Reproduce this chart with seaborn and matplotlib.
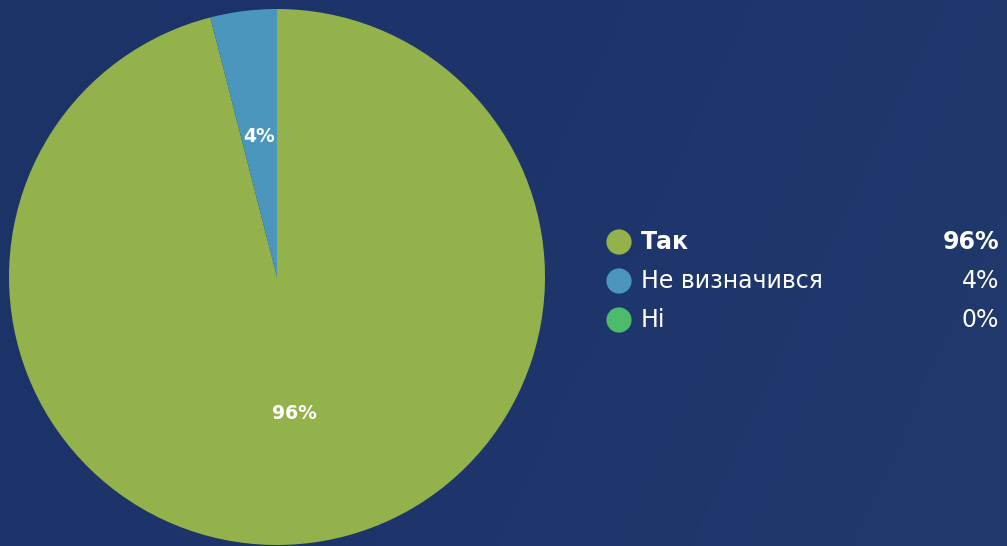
import numpy as np
import pandas as pd
import matplotlib
matplotlib.use("Agg")
import matplotlib.pyplot as plt
import seaborn as sns
from matplotlib.colors import LinearSegmentedColormap

categories = ["Так", "Не визначився", "Ні"]
values = [96, 4, 0]
pct_labels = ["96%", "4%", "0%"]
colors = ["#94b24c", "#4b96bd", "#4cbb6c"]

sns.set_theme(style="white")
plt.rcParams['font.family'] = ['DejaVu Sans']

W, H = 1007, 546
fig = plt.figure(figsize=(W / 100, H / 100), dpi=100)
ax = fig.add_axes([0, 0, 1, 1])

# background gradient
cmap = LinearSegmentedColormap.from_list("bg", ["#1b3367", "#1d356b", "#213a6d"])
gx = np.linspace(0, 1, 256)
gy = np.linspace(0, 1, 64)
grad = (gx[None, :] * 0.8 + gy[:, None] * 0.2)
ax.imshow(grad, cmap=cmap, extent=(0, W, H, 0), aspect="auto", zorder=0)

# pie (y axis inverted: data angle -90 is visual top, data ccw is visual cw)
df = pd.DataFrame({"cat": categories, "val": values, "lab": pct_labels, "col": colors})
nz = df[df.val > 0]
cx, cy, r = 277, 277, 268
ax.pie(nz.val, colors=nz.col, startangle=-90, counterclock=True,
       center=(cx, cy), radius=r, frame=True,
       wedgeprops=dict(linewidth=0, zorder=2))
total = nz.val.sum()
ang = -90.0
for v, lab in zip(nz.val, nz.lab):
    span = 360.0 * v / total
    mid = ang + span / 2
    th = np.deg2rad(mid)
    d = 0.52 * r
    ax.text(cx + d * np.cos(th), cy + d * np.sin(th) - 2, lab, color="white",
            fontsize=13.5, fontweight="bold", ha="center", va="center", zorder=3)
    ang += span

# legend
ys = [242, 281, 320]
leg = pd.DataFrame({"x": [619] * 3, "y": ys, "cat": categories})
sns.scatterplot(data=leg, x="x", y="y", hue="cat", palette=colors, s=330,
                linewidth=0, legend=False, ax=ax, zorder=4)
for i, (cat, lab) in enumerate(zip(categories, pct_labels)):
    w = "bold" if i == 0 else "normal"
    ax.text(641, ys[i], cat, color="white", fontsize=17, fontweight=w,
            ha="left", va="center", zorder=4)
    ax.text(999, ys[i], lab, color="white", fontsize=17, fontweight=w,
            ha="right", va="center", zorder=4)
ax.set_xlim(0, W)
ax.set_ylim(H, 0)
ax.set_aspect("auto")
ax.axis("off")

fig.savefig("out.png", dpi=100)
